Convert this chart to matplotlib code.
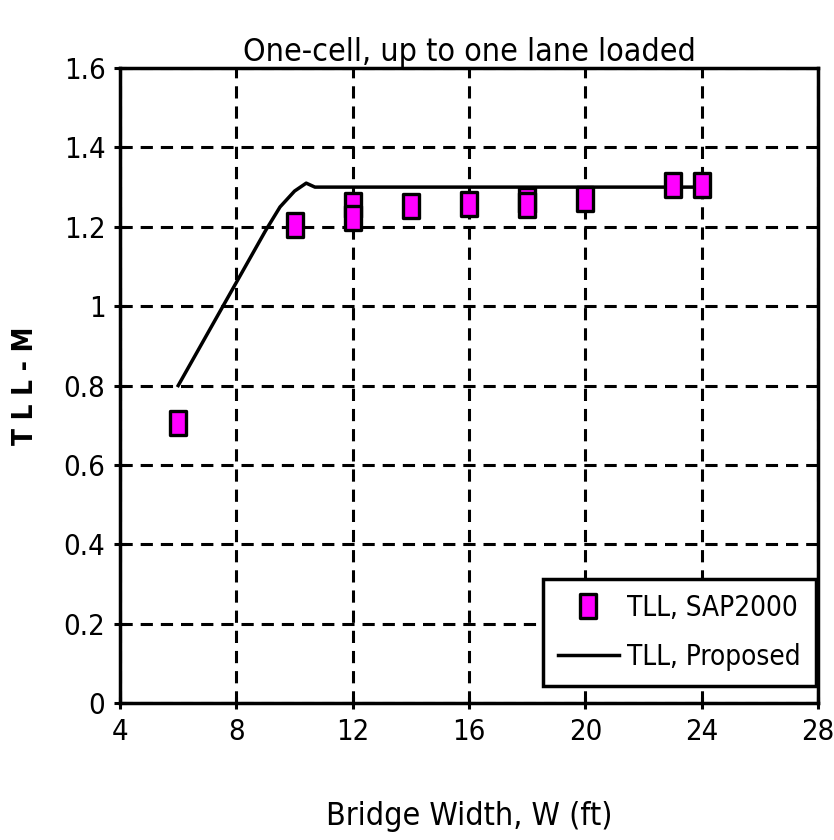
import numpy as np
import matplotlib
matplotlib.use("Agg")
from matplotlib import pyplot as plt
from matplotlib.path import Path

# data
sap_w = [6, 10, 12, 12, 14, 16, 18, 18, 20, 23, 24]
sap_tll = [0.705, 1.205, 1.255, 1.222, 1.252, 1.257, 1.268, 1.255, 1.27, 1.305, 1.305]

prop_w = [6, 8, 9, 9.5, 10, 10.4, 10.7, 24]
prop_tll = [0.80, 1.06, 1.19, 1.25, 1.29, 1.31, 1.30, 1.30]

xticks = [4, 8, 12, 16, 20, 24, 28]
yticks = [0, 0.2, 0.4, 0.6, 0.8, 1.0, 1.2, 1.4, 1.6]
ytick_labels = ["0", "0.2", "0.4", "0.6", "0.8", "1", "1.2", "1.4", "1.6"]

plt.rcParams['font.family'] = ['DejaVu Sans']
plt.rcParams['font.stretch'] = 'condensed'

# tall rectangle marker
rect = Path([(-0.66, -1), (0.66, -1), (0.66, 1), (-0.66, 1), (-0.66, -1)],
            [Path.MOVETO, Path.LINETO, Path.LINETO, Path.LINETO, Path.CLOSEPOLY])

fig = plt.figure(figsize=(8.34, 8.40), dpi=100)
ax = fig.add_axes([0.1439, 0.163, 0.8372, 0.756])

ax.plot(prop_w, prop_tll, color='black', lw=2.5, label='TLL, Proposed', zorder=3)
ax.plot(sap_w, sap_tll, ls='none', marker=rect, ms=17, mfc='#ff00ff', mec='black',
        mew=2.4, label='TLL, SAP2000', zorder=4)

ax.set_xlim(4, 28)
ax.set_ylim(0, 1.6)
ax.set_xticks(xticks)
ax.set_yticks(yticks)
ax.set_yticklabels(ytick_labels)
ax.grid(True, color='black', ls=(0, (4, 2.6)), lw=2.2)
ax.tick_params(direction='inout', length=9, width=2.2, labelsize=21, pad=6)
for s in ax.spines.values():
    s.set_linewidth(2.5)

ax.set_title('One-cell, up to one lane loaded', fontsize=23, pad=4)
ax.set_xlabel('Bridge Width, W (ft)', fontsize=23, labelpad=40)
ax.set_ylabel('T L L - M', fontsize=20, fontweight='bold', labelpad=18)

handles, labels = ax.get_legend_handles_labels()
leg = ax.legend(handles[::-1], labels[::-1], loc='lower right', bbox_to_anchor=(0.997, 0.027),
                borderaxespad=0, fontsize=20, frameon=True, fancybox=False, edgecolor='black',
                framealpha=1, handlelength=2.2, handletextpad=0.3, borderpad=0.55,
                labelspacing=0.75)
leg.get_frame().set_linewidth(2.5)

plt.savefig('out.png', dpi=100)
